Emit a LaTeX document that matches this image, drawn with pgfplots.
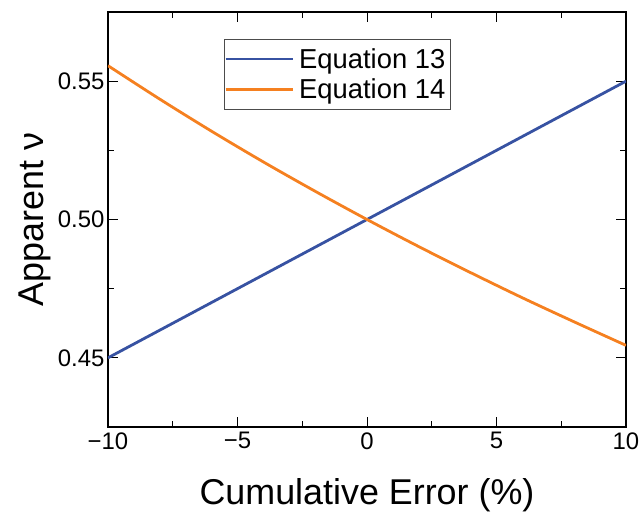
\documentclass[border=0pt]{standalone}
\usepackage{fontspec}
\setmainfont{Liberation Sans}
\usepackage{pgfplots}
\pgfplotsset{compat=1.18}
\definecolor{eqblue}{RGB}{55,82,162}
\definecolor{eqorange}{RGB}{245,128,32}
\begin{document}
\begin{tikzpicture}[x=1bp,y=1bp]
\begin{axis}[
  scale only axis,
  width=518bp, height=415bp,
  xmin=-10, xmax=10, ymin=0.425, ymax=0.575,
  xtick={-10,-5,0,5,10},
  xticklabels={−10,−5,0,5,10},
  minor xtick={-7.5,-2.5,2.5,7.5},
  ytick={0.45,0.50,0.55},
  yticklabels={0.45,0.50,0.55},
  minor ytick={0.475,0.525},
  tick align=inside,
  major tick length=10bp, minor tick length=6bp,
  tick style={black, line width=0.9bp},
  axis line style={black, line width=1.1bp},
  ticklabel style={font=\fontsize{24}{28}\selectfont},
  xticklabel style={yshift=-2bp},
  /pgf/number format/assume math mode=true,
  xlabel={Cumulative Error (\%)},
  ylabel={Apparent ν},
  label style={font=\fontsize{36}{43}\selectfont},
  xlabel style={at={(rel axis cs:0.5,0)}, anchor=center, yshift=-68bp},
  ylabel style={at={(rel axis cs:0,0.5)}, anchor=center, yshift=73bp},
  legend style={at={(0.224,0.935)}, anchor=north west, draw=black!70, line width=0.6bp,
    font=\fontsize{27.5}{33}\selectfont, inner xsep=0bp, inner ysep=7bp, row sep=5bp,
    nodes={inner xsep=5bp, inner ysep=2bp}},
  legend cell align=left,
  legend image code/.code={\draw[#1] (-2bp,0bp) -- (65bp,0bp);},
]
\addplot[eqblue, line width=2.8bp] coordinates {(-10,0.45) (0,0.50) (10,0.55)};
\addlegendentry{Equation 13}
\addplot[eqorange, line width=2.8bp, smooth] coordinates {
(-10,0.5556) (-8,0.5435) (-6,0.5319) (-4,0.5208) (-2,0.5102) (0,0.5)
(2,0.4902) (4,0.4808) (6,0.4717) (8,0.4630) (10,0.4545)};
\addlegendentry{Equation 14}
\coordinate (tl) at (rel axis cs:0,1);
\coordinate (br) at (rel axis cs:1,0);
\end{axis}
\pgfresetboundingbox
\path ([shift={(-108bp,12bp)}]tl) rectangle ([shift={(16bp,-85bp)}]br);
\end{tikzpicture}
\end{document}
